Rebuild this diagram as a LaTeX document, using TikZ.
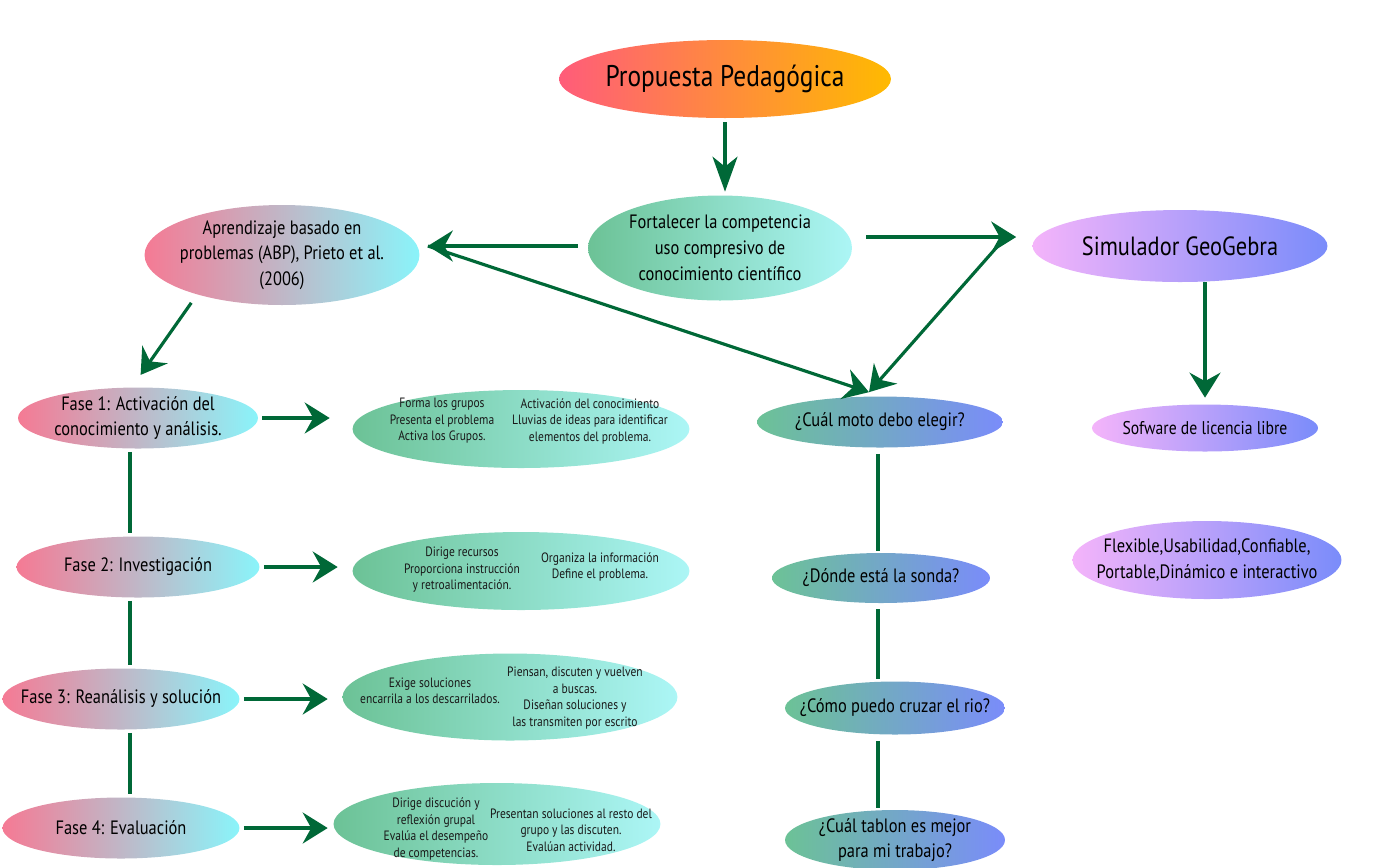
\documentclass[tikz,border=0pt]{standalone}
\usepackage{fontspec}
\setmainfont{PT Sans}[FakeStretch=0.85]
\usetikzlibrary{shapes.geometric,arrows.meta,calc}
\definecolor{arrowgreen}{RGB}{0,104,55}
\definecolor{warmL}{RGB}{255,92,122}
\definecolor{warmR}{RGB}{255,186,0}
\definecolor{greenL}{RGB}{108,194,150}
\definecolor{cyanR}{RGB}{172,246,246}
\definecolor{pinkL}{RGB}{245,122,148}
\definecolor{cyanB}{RGB}{138,244,250}
\definecolor{lilacL}{RGB}{244,180,250}
\definecolor{blueR}{RGB}{122,140,250}
\tikzset{
  bubble/.style={ellipse, inner sep=-2cm, align=center, text=black},
  arr/.style={draw=arrowgreen, line width=1.8pt, -{Stealth[length=0.5cm,width=0.62cm,inset=0.17cm]}},
  link/.style={draw=arrowgreen, line width=1.8pt},
  cols/.style={align=center, font=\fontsize{7.7}{9.4}\selectfont, text=black!90}
}
\begin{document}
\begin{tikzpicture}[x=0.02cm, y=-0.02cm]
		\useasboundingbox (0,0) rectangle (1381,867);
		\node[bubble, left color=warmL, right color=warmR, minimum width=6.64cm, minimum height=1.56cm, font=\fontsize{17}{20}\selectfont] (prop) at (725,79) {Propuesta Pedagógica};
		\node[bubble, left color=greenL, right color=cyanR, minimum width=5.28cm, minimum height=2.1cm, font=\fontsize{11}{14.7}\selectfont] (fort) at (720,248) {Fortalecer la competencia\\uso compresivo de\\conocimiento científico};
		\node[bubble, left color=pinkL, right color=cyanB, minimum width=5.5cm, minimum height=2cm, font=\fontsize{11}{14.5}\selectfont] (apr) at (282,255) {Aprendizaje basado en\\problemas (ABP), Prieto et al.\\(2006)};
		\node[bubble, left color=lilacL, right color=blueR, minimum width=5.9cm, minimum height=1.44cm, font=\fontsize{15}{18}\selectfont] (sim) at (1180,246) {Simulador GeoGebra};
		\node[bubble, left color=lilacL, right color=blueR, minimum width=4.52cm, minimum height=0.94cm, font=\fontsize{10.5}{13}\selectfont] (sof) at (1205,428) {Sofware de licencia libre};
		\node[bubble, left color=lilacL, right color=blueR, minimum width=5.38cm, minimum height=1.56cm, font=\fontsize{11}{15}\selectfont] (flex) at (1207,560) {Flexible,Usabilidad,Confiable,\\Portable,Dinámico e interactivo};
		% fases
		\foreach \n/\x/\y/\w/\t in {1/138/418/4.8/{Fase 1: Activación del\\conocimiento y análisis.}, 2/138/567/4.86/{Fase 2: Investigación}, 3/121/699/4.74/{Fase 3: Reanálisis y solución}, 4/121/828/4.74/{Fase 4: Evaluación}}
			\node[bubble, left color=pinkL, right color=cyanB, minimum width=\w cm, minimum height=1.22cm, font=\fontsize{11}{14.2}\selectfont] (fase\n) at (\x,\y) {\t};
		\foreach \n/\x/\y/\w/\h in {1/521/429/6.74/1.56, 2/521/571/6.74/1.56, 3/510/697/6.7/1.74, 4/497/824/6.54/1.64}
			\node[bubble, left color=greenL, right color=cyanR, minimum width=\w cm, minimum height=\h cm] (box\n) at (\x,\y) {};
		\node[cols] (b1a) at (442,421) {Forma los grupos\\Presenta el problema\\Activa los Grupos.};
		\node[cols] (b1b) at (590,421) {Activación del conocimiento\\Lluvias de ideas para identificar\\elementos del problema.};
		\node[cols] (b2a) at (462,570) {Dirige recursos\\Proporciona instrucción\\y retroalimentación.};
		\node[cols] (b2b) at (600,567) {Organiza la información\\Define el problema.};
		\node[cols] (b3a) at (430,691) {Exige soluciones\\encarrila a los descarrilados.};
		\node[cols] (b3b) at (575,698) {Piensan, discuten y vuelven\\a buscas.\\Diseñan soluciones y\\las transmiten por escrito};
		\node[cols] (b4a) at (436,829) {Dirige discución y\\reflexión grupal\\Evalúa el desempeño\\de competencias.};
		\node[cols] (b4b) at (571,830) {Presentan soluciones al resto del\\grupo y las discuten.\\Evalúan actividad.};
		% preguntas
		\node[bubble, left color=greenL, right color=blueR, minimum width=4.92cm, minimum height=1.02cm, font=\fontsize{11}{14}\selectfont] (moto) at (880,422) {¿Cuál moto debo elegir?};
		\node[bubble, left color=greenL, right color=blueR, minimum width=4.36cm, minimum height=1cm, font=\fontsize{11}{14}\selectfont] (sonda) at (881,578) {¿Dónde está la sonda?};
		\node[bubble, left color=greenL, right color=blueR, minimum width=4.4cm, minimum height=1.06cm, font=\fontsize{11}{14}\selectfont] (rio) at (895,708) {¿Cómo puedo cruzar el rio?};
		\node[bubble, left color=greenL, right color=blueR, minimum width=4.4cm, minimum height=1.2cm, font=\fontsize{11}{14.2}\selectfont] (tablon) at (895,840) {¿Cuál tablon es mejor\\para mi trabajo?};
		% flechas
		\coordinate (tipL) at ($(apr.east)+(8,-9)$);
		\coordinate (tipR) at ($(sim.west)+(-16,-9)$);
		\coordinate (motoTop) at ($(moto.north)+(-11,-4)$);
		\draw[arr, -{Stealth[length=0.7cm,width=0.5cm,inset=0.2cm]}, shorten <=0.08cm, shorten >=0.07cm] (prop.south) -- (prop.south |- fort.north);
		\draw[arr, shorten <=0.2cm] (fort.west |- tipL) -- (tipL);
		\draw[arr, shorten <=0.28cm] (fort.east |- tipR) -- (tipR);
		\draw[arr] (tipL) -- (motoTop);
		\draw[arr] ($(tipR)+(-14,4)$) -- (motoTop);
		\draw[arr, shorten <=0.2cm, shorten >=0.3cm] (apr.205) -- ($(fase1.north)+(-6,0)$);
		\draw[arr, shorten >=0.13cm] (sof.north |- sim.south) -- (sof.north);
		\foreach \i/\s in {1/0.45,2/0.29,3/0.29,4/0.11}
			\draw[arr, shorten <=0.08cm, shorten >=\s cm] (fase\i.east) -- (fase\i.east -| box\i.west);
		\coordinate (lx) at (130,0);
		\foreach \a/\b in {fase1/fase2,fase2/fase3,fase3/fase4}
			\draw[link, shorten <=0.06cm, shorten >=0.06cm] (lx |- \a.south) -- (lx |- \b.north);
		\coordinate (rx) at (878,0);
		\foreach \a/\b in {moto/sonda,sonda/rio,rio/tablon}
			\draw[link, shorten <=0.12cm, shorten >=0.04cm] (rx |- \a.south) -- (rx |- \b.north);
\end{tikzpicture}
\end{document}
